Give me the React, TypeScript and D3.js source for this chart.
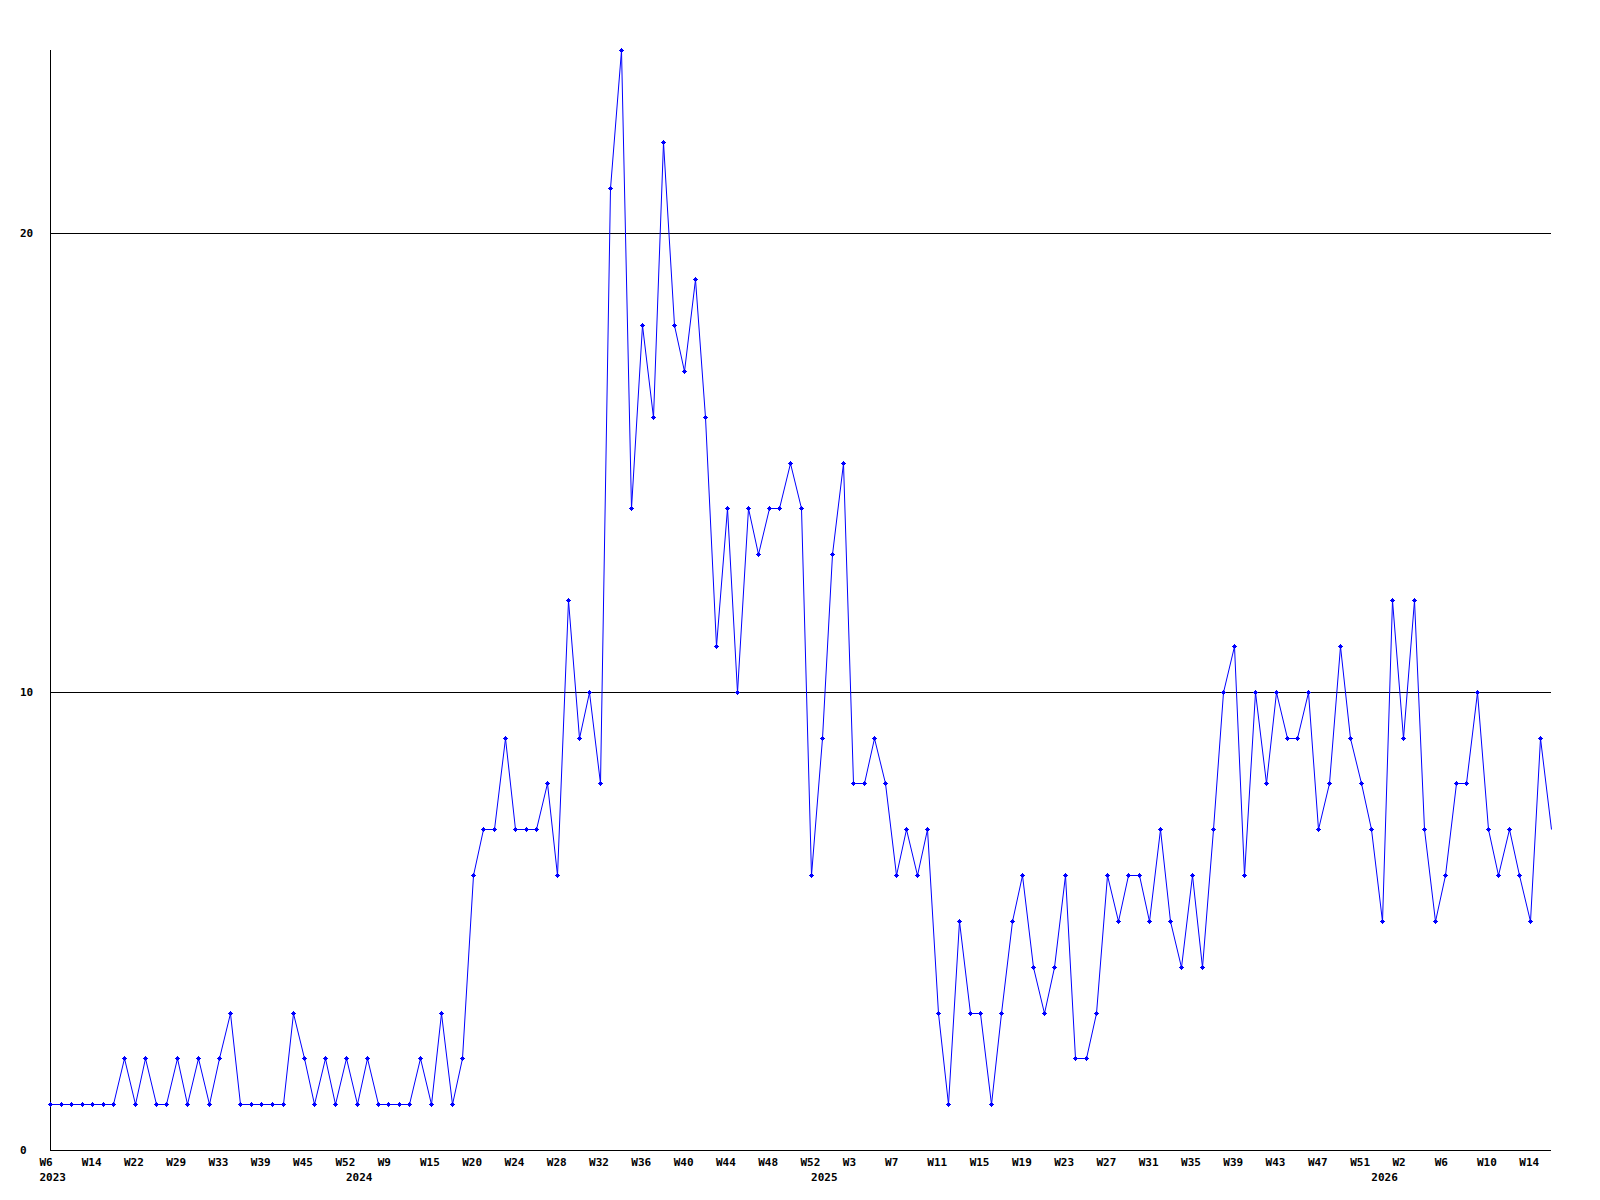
import React from "react";
import * as d3 from "d3";

const values: number[] = [
  1, 1, 1, 1, 1, 1, 1, 2, 1, 2, 1, 1, 2, 1, 2, 1, 2, 3, 1, 1,
  1, 1, 1, 3, 2, 1, 2, 1, 2, 1, 2, 1, 1, 1, 1, 2, 1, 3, 1, 2,
  6, 7, 7, 9, 7, 7, 7, 8, 6, 12, 9, 10, 8, 21, 24, 14, 18, 16, 22, 18,
  17, 19, 16, 11, 14, 10, 14, 13, 14, 14, 15, 14, 6, 9, 13, 15, 8, 8, 9, 8,
  6, 7, 6, 7, 3, 1, 5, 3, 3, 1, 3, 5, 6, 4, 3, 4, 6, 2, 2, 3,
  6, 5, 6, 6, 5, 7, 5, 4, 6, 4, 7, 10, 11, 6, 10, 8, 10, 9, 9, 10,
  7, 8, 11, 9, 8, 7, 5, 12, 9, 12, 7, 5, 6, 8, 8, 10, 7, 6, 7, 6,
  5, 9, 7,
];

const weekLabels: string[] = [
  "W6", "W14", "W22", "W29", "W33", "W39", "W45", "W52", "W9", "W15", "W20", "W24",
  "W28", "W32", "W36", "W40", "W44", "W48", "W52", "W3", "W7", "W11", "W15", "W19",
  "W23", "W27", "W31", "W35", "W39", "W43", "W47", "W51", "W2", "W6", "W10", "W14",
];
const weekLabelEvery = 4;

const yearLabels: string[] = ["2023", "2024", "2025", "2026"];
const yearLabelIndex: number[] = [0, 29, 73, 126];

const yTicks: number[] = [0, 10, 20];
const gridValues: number[] = [10, 20];

const W = 1600;
const H = 1200;
const left = 50;
const right = 1551;
const top = 50;
const bottom = 1150;
const font = "'DejaVu Sans Mono', monospace";

export default function App() {
  const x = d3.scaleLinear().domain([0, values.length - 1]).range([left, right]);
  const y = d3.scaleLinear().domain([0, 24]).range([bottom, top]);
  const step = x(1) - x(0);

  const line = d3
    .line<number>()
    .x((_, i) => Math.round(x(i)) + 0.5)
    .y((d) => Math.round(y(d)) + 0.5);

  const marker = "M-2,-0.5h5v1h-5z M0,-2.5h1v5h-1z M-1,-1.5h3v3h-3z";

  return (
    <svg
      width={W}
      height={H}
      style={{ position: "absolute", left: 0, top: 0, background: "#fff" }}
    >
      <rect x={0} y={0} width={W} height={H} fill="#fff" />
      {gridValues.map((g) => (
        <line
          key={g}
          x1={left}
          x2={right}
          y1={Math.round(y(g)) + 0.5}
          y2={Math.round(y(g)) + 0.5}
          stroke="#000"
          strokeWidth={1}
          shapeRendering="crispEdges"
        />
      ))}
      <line x1={left + 0.5} x2={left + 0.5} y1={top} y2={bottom + 1} stroke="#000" shapeRendering="crispEdges" />
      <line x1={left} x2={right} y1={bottom + 0.5} y2={bottom + 0.5} stroke="#000" shapeRendering="crispEdges" />
      <path d={line(values) || ""} fill="none" stroke="#0000ff" strokeWidth={1} />
      {values.slice(0, values.length - 1).map((v, i) => (
        <path
          key={i}
          d={marker}
          transform={`translate(${Math.round(x(i))},${Math.round(y(v))})`}
          fill="#0000ff"
          shapeRendering="crispEdges"
        />
      ))}
      {yTicks.map((t) => (
        <text
          key={t}
          x={20}
          y={y(t) + 4}
          fontFamily={font}
          fontWeight="bold"
          fontSize={11}
          fill="#000"
        >
          {t}
        </text>
      ))}
      {weekLabels.map((l, k) => (
        <text
          key={k}
          x={x(k * weekLabelEvery) - step}
          y={1166}
          fontFamily={font}
          fontWeight="bold"
          fontSize={11}
          fill="#000"
        >
          {l}
        </text>
      ))}
      {yearLabels.map((l, k) => (
        <text
          key={l}
          x={x(yearLabelIndex[k]) - step}
          y={1181}
          fontFamily={font}
          fontWeight="bold"
          fontSize={11}
          fill="#000"
        >
          {l}
        </text>
      ))}
    </svg>
  );
}
